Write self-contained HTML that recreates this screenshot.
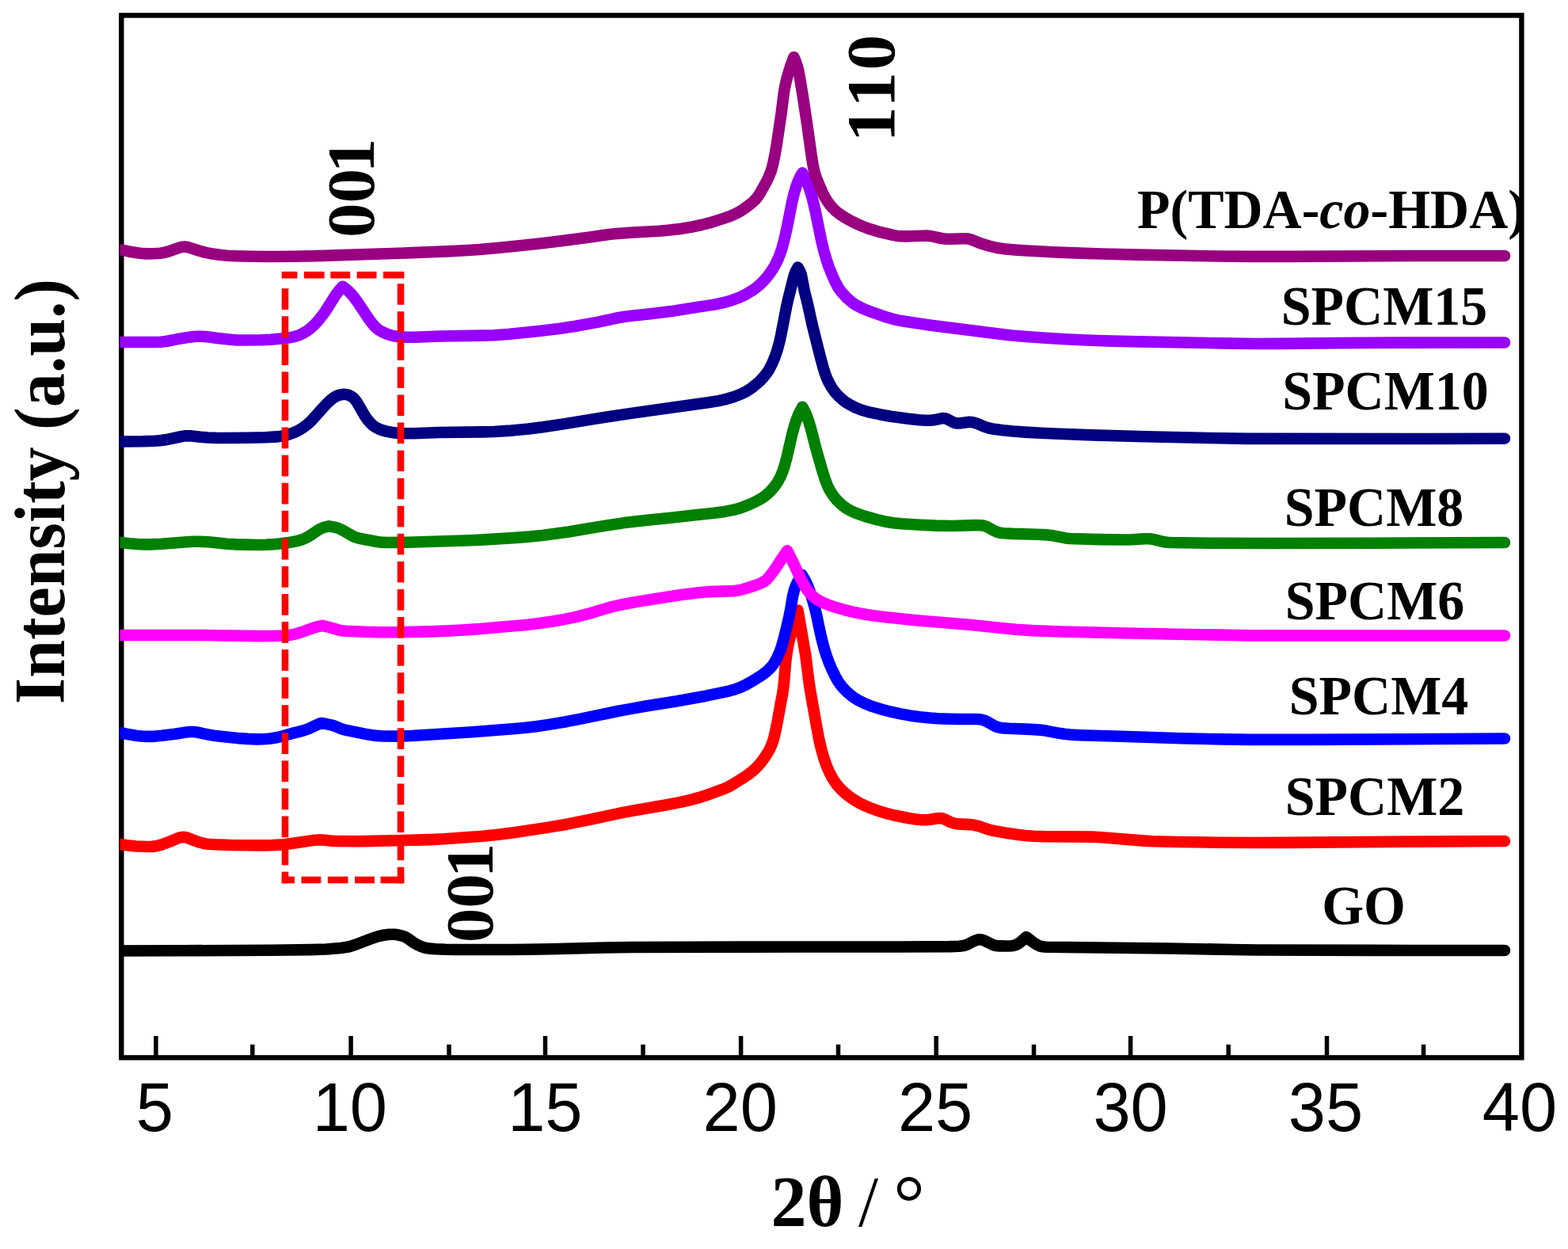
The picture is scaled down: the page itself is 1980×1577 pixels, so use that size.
<!DOCTYPE html>
<html lang="en">
<head>
<meta charset="utf-8">
<title>XRD patterns</title>
<style>
html,body{margin:0;padding:0;background:#fff;}
body{width:1980px;height:1577px;overflow:hidden;}
svg{display:block;}
.serif{font-family:"Liberation Serif","DejaVu Serif",serif;font-weight:bold;fill:#000;}
.sans{font-family:"Liberation Sans","DejaVu Sans",sans-serif;fill:#000;}
.curve{fill:none;stroke-width:14.6;stroke-linejoin:round;stroke-linecap:round;}
.dash{fill:none;stroke:#ff0000;stroke-width:9;}
.tick{stroke:#000;stroke-width:5.5;}
</style>
</head>
<body>
<svg width="1980" height="1577" viewBox="0 0 1980 1577">
<rect x="0" y="0" width="1980" height="1577" fill="#ffffff"/>
<rect x="153.3" y="19.4" width="1768.1" height="1316.0" fill="none" stroke="#000" stroke-width="6.4"/>
<clipPath id="cl"><rect x="151.5" y="0" width="1800" height="1577"/></clipPath>
<g id="curves" clip-path="url(#cl)">
<path class="curve" stroke="#000000" d="M152.5,1200.5 L232.0,1200.3 L343.0,1199.7 L392.5,1199.1 L412.0,1198.5 L421.0,1197.8 L430.0,1196.9 L436.7,1196.0 L441.1,1195.2 L448.2,1193.0 L469.9,1184.7 L476.3,1182.6 L480.7,1181.5 L485.8,1180.5 L490.3,1179.9 L494.0,1179.7 L497.8,1179.8 L502.2,1180.3 L506.6,1181.3 L510.1,1182.4 L512.2,1183.3 L514.7,1184.8 L522.1,1190.0 L525.9,1192.3 L532.0,1195.1 L537.0,1196.7 L542.1,1197.6 L550.3,1198.2 L562.3,1198.8 L575.1,1199.0 L646.3,1199.0 L667.3,1198.8 L696.6,1198.3 L764.1,1196.5 L797.8,1196.0 L939.6,1195.6 L1138.4,1195.5 L1199.9,1195.1 L1211.2,1194.7 L1214.9,1194.3 L1217.8,1193.8 L1222.0,1192.4 L1228.5,1188.9 L1231.9,1187.4 L1234.7,1186.6 L1236.8,1186.3 L1239.7,1186.5 L1242.4,1187.4 L1252.4,1192.3 L1255.2,1193.4 L1257.3,1193.9 L1262.5,1194.4 L1274.5,1194.5 L1277.4,1194.3 L1280.3,1193.8 L1282.4,1193.2 L1284.3,1192.3 L1286.9,1190.7 L1289.8,1188.5 L1296.0,1183.0 L1304.3,1189.5 L1308.0,1192.0 L1310.6,1193.4 L1313.3,1194.6 L1315.4,1195.1 L1318.3,1195.5 L1322.1,1195.7 L1475.2,1197.5 L1556.2,1199.0 L1587.7,1199.5 L1731.1,1199.9 L1900.0,1200.0"/>
<path class="curve" stroke="#ff0000" d="M152.5,1066.0 L162.1,1067.6 L171.8,1068.5 L186.1,1069.0 L191.3,1068.9 L195.0,1068.6 L199.4,1067.8 L203.7,1066.6 L214.3,1062.7 L225.3,1058.1 L228.1,1057.2 L231.0,1056.9 L233.2,1057.0 L236.1,1057.6 L246.5,1061.6 L252.9,1063.8 L258.0,1065.1 L262.4,1065.8 L270.6,1066.3 L290.8,1067.0 L329.1,1067.4 L344.1,1067.1 L359.1,1066.2 L366.5,1065.3 L394.7,1061.1 L402.2,1060.4 L407.4,1060.5 L417.1,1061.6 L421.5,1061.9 L446.3,1062.2 L459.8,1062.1 L525.0,1060.6 L543.8,1060.1 L560.3,1059.3 L609.6,1055.7 L626.8,1054.0 L646.9,1051.4 L687.7,1045.4 L715.8,1040.7 L744.5,1034.9 L787.8,1025.6 L840.2,1016.5 L857.9,1013.1 L868.2,1010.8 L876.9,1008.6 L884.1,1006.6 L892.7,1003.8 L911.0,997.2 L915.9,995.2 L920.0,993.4 L927.8,988.9 L940.5,980.9 L946.0,977.0 L950.1,973.8 L953.5,970.8 L956.6,967.6 L960.1,963.7 L963.8,958.9 L967.2,954.0 L969.9,949.5 L972.1,945.6 L974.2,940.8 L975.8,936.6 L977.3,931.6 L978.7,925.7 L981.6,911.8 L985.4,890.4 L988.1,876.4 L989.1,869.7 L989.9,863.0 L992.1,836.1 L993.9,822.7 L995.3,814.6 L997.0,807.3 L1002.5,788.6 L1007.5,770.5 L1017.3,827.4 L1021.3,859.4 L1022.8,869.8 L1031.4,918.6 L1034.5,934.8 L1037.1,945.8 L1040.6,958.0 L1044.1,967.9 L1046.5,973.4 L1049.2,978.8 L1051.7,983.4 L1054.1,987.1 L1056.8,990.8 L1060.2,994.8 L1063.9,998.5 L1067.8,1002.0 L1071.9,1005.3 L1076.8,1008.7 L1081.9,1011.9 L1087.1,1014.8 L1092.5,1017.4 L1098.1,1019.8 L1111.4,1024.6 L1120.8,1027.4 L1129.5,1029.5 L1147.2,1033.0 L1158.3,1034.7 L1165.0,1035.3 L1170.3,1035.3 L1174.7,1034.8 L1183.5,1033.2 L1186.5,1033.0 L1188.6,1033.2 L1190.8,1033.7 L1192.8,1034.4 L1201.6,1038.6 L1205.8,1039.8 L1210.2,1040.4 L1224.5,1041.1 L1230.4,1041.8 L1236.2,1043.2 L1248.2,1047.4 L1252.6,1048.5 L1260.0,1049.9 L1272.5,1052.1 L1284.4,1053.8 L1294.8,1055.0 L1305.3,1055.7 L1318.1,1056.1 L1378.8,1056.6 L1390.8,1057.3 L1441.7,1061.4 L1455.9,1062.3 L1487.4,1063.0 L1534.6,1063.7 L1580.4,1064.0 L1628.4,1063.9 L1786.0,1062.6 L1900.0,1062.0"/>
<path class="curve" stroke="#0000ff" d="M152.5,925.0 L162.8,927.3 L171.6,928.8 L180.6,929.7 L188.9,929.9 L196.4,929.6 L204.6,928.8 L221.0,926.8 L235.8,924.4 L239.6,924.0 L243.3,924.0 L249.2,924.6 L261.0,927.1 L269.9,928.7 L285.5,930.6 L300.5,932.1 L312.5,932.9 L324.5,933.4 L332.7,933.3 L341.7,932.5 L350.6,931.0 L355.7,929.7 L367.2,926.4 L382.5,922.6 L389.6,920.2 L399.8,915.3 L405.3,913.0 L412.0,914.0 L417.8,915.3 L422.1,916.6 L431.8,920.5 L438.3,922.2 L465.5,927.6 L475.2,928.9 L483.4,929.5 L504.4,929.6 L520.1,929.0 L596.5,924.2 L647.4,920.3 L663.8,918.8 L677.2,917.2 L692.8,914.9 L715.0,911.2 L733.4,907.6 L779.7,898.0 L791.4,895.8 L815.8,891.5 L853.6,885.5 L891.2,878.7 L915.5,873.6 L922.0,872.1 L927.8,870.4 L934.9,867.9 L942.3,864.4 L951.4,859.2 L962.2,852.3 L967.5,848.3 L972.0,844.2 L975.9,839.7 L978.7,835.3 L981.8,829.4 L984.8,822.5 L987.0,816.1 L989.1,808.9 L993.3,792.2 L996.3,779.0 L998.4,768.7 L1001.1,752.4 L1002.9,745.2 L1004.6,740.3 L1006.8,735.5 L1009.3,730.9 L1012.5,725.8 L1016.4,732.2 L1019.4,738.2 L1022.4,745.9 L1025.8,756.6 L1028.5,766.0 L1030.9,775.5 L1035.3,796.8 L1038.4,809.9 L1040.9,819.3 L1043.4,827.2 L1046.7,836.4 L1050.8,846.0 L1054.8,854.1 L1058.5,860.6 L1061.1,864.3 L1063.4,867.3 L1069.1,873.2 L1075.9,879.0 L1079.6,881.6 L1083.5,884.0 L1091.5,888.0 L1101.2,891.9 L1112.7,895.5 L1125.0,898.7 L1137.5,901.4 L1148.6,903.4 L1162.0,905.2 L1174.7,906.5 L1184.4,907.2 L1199.4,907.7 L1211.4,908.0 L1232.4,908.0 L1237.6,908.3 L1240.5,908.9 L1243.3,909.8 L1246.7,911.3 L1256.5,916.8 L1260.0,918.1 L1263.6,918.9 L1268.0,919.4 L1274.0,919.8 L1301.8,920.9 L1313.0,921.6 L1321.9,922.8 L1337.4,925.8 L1344.1,926.8 L1351.5,927.6 L1363.5,928.2 L1423.5,930.0 L1491.0,932.3 L1544.3,933.4 L1578.1,933.9 L1654.6,933.9 L1900.0,932.5"/>
<path class="curve" stroke="#ff00ff" d="M152.5,802.0 L257.0,802.0 L326.9,803.1 L342.7,803.0 L358.5,802.5 L366.0,801.9 L372.6,800.6 L381.2,798.0 L395.3,792.8 L400.4,791.4 L407.0,789.9 L415.8,792.0 L427.9,795.6 L431.6,796.3 L436.8,796.8 L460.0,797.8 L478.0,798.2 L496.1,798.2 L523.8,797.9 L544.1,797.4 L562.8,796.6 L583.0,795.6 L601.0,794.4 L622.7,792.4 L664.5,788.9 L680.9,787.0 L698.0,784.5 L714.3,781.6 L727.5,778.8 L744.9,774.4 L764.3,768.5 L773.0,766.1 L788.3,762.7 L805.3,759.6 L856.4,751.5 L878.0,748.7 L887.7,747.7 L896.0,747.1 L927.4,746.1 L933.4,745.3 L939.2,743.8 L954.2,739.0 L959.1,737.2 L963.8,734.9 L967.4,732.4 L971.0,728.6 L978.3,719.1 L988.1,704.1 L994.1,695.4 L1001.5,710.1 L1010.4,729.2 L1016.4,740.4 L1019.8,745.4 L1023.1,749.5 L1026.8,753.1 L1030.9,756.4 L1036.7,759.8 L1045.0,763.4 L1054.9,766.8 L1066.4,770.1 L1078.1,772.9 L1088.4,775.0 L1101.0,777.0 L1116.6,779.0 L1156.9,783.2 L1226.5,789.1 L1282.5,794.8 L1302.7,796.1 L1339.4,797.5 L1435.5,799.8 L1578.8,802.4 L1900.0,802.5"/>
<path class="curve" stroke="#008000" d="M152.5,685.0 L163.7,686.2 L173.4,687.0 L181.7,687.4 L189.9,687.4 L204.1,686.8 L236.3,684.2 L244.5,683.8 L251.3,683.8 L263.3,684.3 L287.2,686.7 L298.4,687.4 L327.6,688.0 L335.1,687.8 L342.6,687.4 L353.1,686.4 L366.5,684.7 L373.9,683.4 L379.7,681.9 L383.9,680.3 L387.9,678.3 L393.0,675.2 L401.0,669.7 L404.9,667.5 L409.8,665.7 L415.6,664.4 L423.0,665.7 L425.8,666.5 L428.6,667.5 L434.0,670.2 L445.0,676.6 L447.7,677.9 L450.5,678.9 L456.3,680.3 L476.2,684.0 L480.6,684.6 L488.9,685.0 L514.4,684.8 L594.7,682.2 L611.9,681.4 L652.3,678.9 L668.8,677.6 L684.5,676.0 L701.6,673.8 L718.0,671.5 L758.7,664.6 L788.3,660.1 L815.2,656.9 L849.5,653.5 L875.6,650.4 L901.7,647.8 L916.6,645.7 L927.6,643.5 L936.2,640.9 L946.0,637.1 L954.2,633.4 L961.4,629.4 L967.0,625.5 L972.0,621.1 L976.5,616.1 L981.0,610.1 L983.3,606.2 L985.7,601.6 L987.5,597.4 L989.3,592.5 L991.3,586.0 L993.6,577.3 L1000.3,548.1 L1003.1,537.9 L1005.4,530.8 L1007.8,524.5 L1010.4,519.1 L1013.2,513.8 L1015.7,518.4 L1017.7,522.4 L1019.6,527.3 L1021.3,532.3 L1024.4,543.1 L1030.2,565.6 L1038.2,593.7 L1042.1,605.9 L1044.5,612.2 L1046.7,617.0 L1049.3,621.5 L1052.6,626.5 L1057.4,632.2 L1062.9,637.3 L1068.9,641.8 L1075.4,645.5 L1083.0,648.7 L1092.2,651.9 L1107.4,656.1 L1119.1,658.8 L1128.0,660.2 L1138.4,661.2 L1162.4,662.7 L1181.9,663.6 L1202.1,664.0 L1232.1,663.1 L1238.8,663.2 L1242.5,663.8 L1246.0,665.0 L1248.6,666.3 L1255.8,670.3 L1259.2,671.8 L1262.8,672.7 L1267.2,673.3 L1279.2,673.9 L1309.2,674.7 L1322.7,675.4 L1330.1,676.3 L1345.5,679.4 L1350.7,680.0 L1357.5,680.3 L1388.2,681.1 L1420.5,681.5 L1430.2,681.3 L1445.2,680.2 L1450.4,680.2 L1453.4,680.5 L1457.1,681.1 L1470.2,684.3 L1473.9,684.8 L1478.4,685.0 L1531.6,685.8 L1597.7,686.0 L1738.0,685.7 L1900.0,685.0"/>
<path class="curve" stroke="#000080" d="M153.0,557.5 L180.8,557.2 L195.0,556.7 L201.7,556.3 L209.1,555.3 L229.7,551.0 L233.4,550.4 L236.4,550.2 L241.6,550.4 L253.5,551.8 L262.5,552.5 L272.2,552.9 L282.7,553.0 L312.7,552.8 L335.2,552.3 L349.4,551.4 L354.7,550.8 L359.1,550.1 L365.6,548.3 L372.6,545.6 L377.9,542.9 L383.6,539.3 L388.9,535.2 L393.3,531.1 L409.8,512.7 L414.5,507.8 L417.8,504.8 L421.4,502.1 L425.3,499.9 L428.7,498.7 L433.1,497.9 L436.8,498.0 L440.3,498.9 L443.6,500.5 L445.4,501.7 L447.0,503.2 L449.0,505.4 L451.1,508.4 L460.1,524.0 L463.4,529.0 L466.3,532.5 L468.8,535.2 L471.6,537.6 L474.1,539.3 L476.7,540.8 L480.1,542.3 L484.3,543.7 L488.7,544.8 L493.9,545.7 L500.5,546.7 L505.8,547.2 L511.0,547.3 L522.2,547.2 L555.2,546.0 L610.0,545.4 L624.2,545.0 L641.5,543.9 L667.6,541.4 L685.4,539.2 L711.4,535.4 L758.8,527.6 L795.1,522.1 L893.9,508.3 L907.3,506.1 L917.5,503.8 L926.8,501.0 L935.2,497.7 L942.6,494.1 L948.9,490.0 L955.9,484.4 L959.3,481.4 L962.4,478.2 L965.3,474.8 L968.1,471.2 L970.6,467.5 L972.4,464.2 L975.4,458.2 L978.3,451.3 L980.8,444.2 L982.9,437.0 L984.6,430.5 L986.2,423.2 L993.0,387.8 L995.3,377.5 L1002.6,348.5 L1004.7,342.9 L1007.5,337.6 L1010.0,342.0 L1011.1,344.7 L1012.0,347.6 L1015.8,367.5 L1019.8,383.5 L1025.8,410.6 L1036.4,452.8 L1039.6,464.3 L1041.8,471.5 L1043.9,477.1 L1046.1,481.9 L1050.1,489.1 L1054.4,495.2 L1056.9,498.0 L1060.0,501.2 L1065.7,506.1 L1068.7,508.3 L1072.5,510.6 L1080.5,514.8 L1088.2,517.8 L1096.1,520.1 L1110.8,523.2 L1124.8,525.7 L1147.1,528.8 L1160.5,530.3 L1168.8,530.8 L1174.7,530.8 L1179.2,530.3 L1188.6,528.3 L1190.8,528.1 L1193.0,528.3 L1196.4,529.3 L1203.5,533.2 L1206.9,534.3 L1209.1,534.5 L1211.3,534.4 L1222.4,532.9 L1225.3,532.9 L1227.5,533.1 L1230.4,533.7 L1233.3,534.6 L1243.6,538.9 L1248.6,540.5 L1255.2,541.8 L1266.4,543.2 L1279.1,544.5 L1294.0,545.6 L1314.2,546.8 L1336.7,547.8 L1379.4,549.4 L1446.2,551.3 L1539.2,553.3 L1574.4,553.9 L1805.5,554.0 L1900.0,553.7"/>
<path class="curve" stroke="#9900ff" d="M153.0,432.0 L195.8,432.0 L203.3,431.8 L210.0,431.0 L223.2,428.3 L238.0,425.9 L244.7,425.0 L250.0,424.7 L254.5,424.7 L259.7,425.1 L274.6,426.9 L293.3,429.0 L299.2,429.4 L306.0,429.5 L329.3,429.3 L342.0,428.7 L360.7,427.0 L366.6,426.1 L371.8,425.1 L375.4,424.0 L378.8,422.7 L382.2,421.0 L385.5,419.2 L389.2,416.7 L392.2,414.5 L397.7,409.4 L402.7,403.8 L407.8,397.3 L412.5,390.5 L423.7,372.7 L427.7,367.3 L432.7,361.7 L436.9,364.9 L440.3,367.8 L443.4,371.0 L446.3,374.4 L452.6,382.9 L463.7,399.8 L467.6,405.3 L472.3,411.2 L476.0,414.8 L479.0,417.0 L482.9,419.2 L487.7,421.3 L492.7,423.1 L497.0,424.2 L500.7,424.8 L511.1,425.6 L524.7,425.7 L556.1,424.5 L609.4,423.6 L623.7,423.2 L641.6,422.0 L680.5,418.1 L705.8,415.0 L725.8,412.0 L755.4,406.6 L777.4,401.8 L786.2,400.2 L795.2,399.1 L823.5,396.1 L847.3,393.1 L878.4,388.1 L900.0,384.9 L906.6,383.7 L913.2,382.2 L924.0,379.2 L933.9,375.5 L942.0,371.6 L950.3,366.6 L954.0,363.9 L957.5,361.1 L960.8,358.1 L964.5,354.4 L968.0,350.5 L970.8,347.0 L975.9,339.6 L979.3,333.7 L982.5,327.0 L984.8,321.4 L987.2,314.3 L989.6,305.6 L991.7,296.9 L994.7,282.9 L1000.2,254.9 L1003.0,243.3 L1005.4,235.4 L1007.7,229.0 L1010.2,223.6 L1013.2,218.4 L1016.8,225.0 L1019.8,231.8 L1022.6,239.6 L1025.4,248.9 L1027.4,256.9 L1029.6,266.5 L1037.2,303.9 L1040.2,316.3 L1043.3,327.1 L1046.7,337.1 L1050.6,346.8 L1054.9,356.4 L1058.4,363.0 L1060.6,366.1 L1063.3,369.6 L1069.5,376.2 L1075.7,381.6 L1079.4,384.2 L1082.6,386.1 L1089.2,389.5 L1096.9,392.6 L1118.9,400.3 L1128.9,403.2 L1135.5,404.6 L1143.7,406.0 L1175.6,410.7 L1256.7,421.0 L1277.6,423.5 L1295.5,425.1 L1320.2,426.8 L1349.4,428.5 L1378.6,429.8 L1404.1,430.6 L1437.1,431.4 L1555.6,433.6 L1585.7,434.0 L1617.9,433.9 L1690.7,433.1 L1764.2,432.6 L1900.0,432.5"/>
<path class="curve" stroke="#990080" d="M152.5,315.3 L163.5,317.7 L176.8,319.8 L184.3,320.4 L194.1,320.2 L202.3,319.7 L208.2,318.7 L213.9,317.1 L227.4,312.4 L230.2,311.7 L233.1,311.6 L235.3,311.7 L238.2,312.4 L251.8,316.8 L259.7,318.9 L268.6,320.6 L279.0,322.1 L287.2,322.8 L296.9,323.2 L320.2,323.7 L342.7,324.0 L369.0,323.8 L400.5,323.1 L504.0,319.8 L570.0,317.1 L591.0,316.0 L606.0,315.0 L635.9,312.3 L662.8,309.6 L685.9,307.0 L714.2,303.5 L744.7,299.5 L768.5,296.1 L775.9,295.3 L799.1,293.5 L832.1,291.8 L845.6,290.6 L860.4,288.7 L872.3,286.8 L885.5,284.0 L897.9,280.9 L915.7,275.1 L922.1,272.8 L926.9,270.8 L931.0,268.8 L934.9,266.6 L939.3,263.8 L944.2,260.3 L948.3,257.1 L951.7,254.1 L954.3,251.5 L956.7,248.6 L960.7,242.3 L968.3,228.4 L971.2,222.3 L973.4,216.8 L974.9,211.8 L976.5,205.2 L978.9,193.4 L980.9,181.6 L986.6,143.0 L989.6,119.1 L991.0,110.3 L993.2,100.7 L995.8,91.3 L999.0,81.3 L1002.4,72.2 L1004.8,77.7 L1006.5,82.6 L1008.4,89.9 L1009.8,97.2 L1013.6,120.2 L1018.9,155.0 L1025.1,199.6 L1027.3,212.2 L1028.7,218.0 L1030.8,224.4 L1035.3,235.5 L1038.9,243.7 L1041.3,248.4 L1043.6,252.3 L1046.1,256.0 L1048.8,259.6 L1051.2,262.4 L1054.4,265.6 L1057.9,268.5 L1061.5,271.1 L1066.5,274.4 L1071.7,277.4 L1077.0,280.2 L1083.1,283.1 L1089.3,285.8 L1095.6,288.2 L1102.0,290.3 L1108.5,292.3 L1126.7,296.7 L1131.8,297.7 L1136.3,298.2 L1144.5,298.4 L1163.2,297.7 L1170.0,297.6 L1176.7,298.3 L1189.1,301.0 L1195.1,301.7 L1201.1,301.8 L1216.0,301.2 L1219.0,301.2 L1222.0,301.5 L1227.0,302.7 L1238.8,307.5 L1248.9,310.5 L1259.1,313.0 L1268.7,314.4 L1281.4,315.5 L1296.4,316.5 L1328.6,318.2 L1356.3,319.4 L1390.8,320.5 L1436.5,321.6 L1539.2,323.5 L1578.2,323.9 L1627.0,323.9 L1783.0,323.0 L1900.0,323.0"/>
</g>
<g id="dashbox" fill="#ff0000">
<rect x="355.7" y="342.9" width="19.7" height="8.6"/>
<rect x="383.9" y="342.9" width="25.7" height="8.6"/>
<rect x="417.3" y="342.9" width="24.8" height="8.6"/>
<rect x="450.7" y="342.9" width="24.8" height="8.6"/>
<rect x="484.0" y="342.9" width="26.4" height="8.6"/>
<rect x="355.7" y="1106.7" width="16.3" height="8.6"/>
<rect x="380.5" y="1106.7" width="24.8" height="8.6"/>
<rect x="413.9" y="1106.7" width="25.6" height="8.6"/>
<rect x="448.0" y="1106.7" width="25.0" height="8.6"/>
<rect x="480.6" y="1106.7" width="29.8" height="8.6"/>
<rect x="355.7" y="364.2" width="8.6" height="26.8"/>
<rect x="355.7" y="399.3" width="8.6" height="26.8"/>
<rect x="355.7" y="434.3" width="8.6" height="26.8"/>
<rect x="355.7" y="469.4" width="8.6" height="26.8"/>
<rect x="355.7" y="504.5" width="8.6" height="26.8"/>
<rect x="355.7" y="539.5" width="8.6" height="26.8"/>
<rect x="355.7" y="574.6" width="8.6" height="26.8"/>
<rect x="355.7" y="609.7" width="8.6" height="26.8"/>
<rect x="355.7" y="644.8" width="8.6" height="26.8"/>
<rect x="355.7" y="679.8" width="8.6" height="26.8"/>
<rect x="355.7" y="714.9" width="8.6" height="26.8"/>
<rect x="355.7" y="750.0" width="8.6" height="26.8"/>
<rect x="355.7" y="785.0" width="8.6" height="26.8"/>
<rect x="355.7" y="820.1" width="8.6" height="26.8"/>
<rect x="355.7" y="855.2" width="8.6" height="26.8"/>
<rect x="355.7" y="890.2" width="8.6" height="26.8"/>
<rect x="355.7" y="925.3" width="8.6" height="26.8"/>
<rect x="355.7" y="960.4" width="8.6" height="26.8"/>
<rect x="355.7" y="995.5" width="8.6" height="26.8"/>
<rect x="355.7" y="1030.5" width="8.6" height="26.8"/>
<rect x="355.7" y="1065.6" width="8.6" height="26.8"/>
<rect x="355.7" y="1100.7" width="8.6" height="14.6"/>
<rect x="501.7" y="358.2" width="8.6" height="26.6"/>
<rect x="501.7" y="393.3" width="8.6" height="26.6"/>
<rect x="501.7" y="428.3" width="8.6" height="26.6"/>
<rect x="501.7" y="463.4" width="8.6" height="26.6"/>
<rect x="501.7" y="498.5" width="8.6" height="26.6"/>
<rect x="501.7" y="533.5" width="8.6" height="26.6"/>
<rect x="501.7" y="568.6" width="8.6" height="26.6"/>
<rect x="501.7" y="603.7" width="8.6" height="26.6"/>
<rect x="501.7" y="638.8" width="8.6" height="26.6"/>
<rect x="501.7" y="673.8" width="8.6" height="26.6"/>
<rect x="501.7" y="708.9" width="8.6" height="26.6"/>
<rect x="501.7" y="744.0" width="8.6" height="26.6"/>
<rect x="501.7" y="779.0" width="8.6" height="26.6"/>
<rect x="501.7" y="814.1" width="8.6" height="26.6"/>
<rect x="501.7" y="849.2" width="8.6" height="26.6"/>
<rect x="501.7" y="884.2" width="8.6" height="26.6"/>
<rect x="501.7" y="919.3" width="8.6" height="26.6"/>
<rect x="501.7" y="954.4" width="8.6" height="26.6"/>
<rect x="501.7" y="989.5" width="8.6" height="26.6"/>
<rect x="501.7" y="1024.5" width="8.6" height="26.6"/>
<rect x="501.7" y="1059.6" width="8.6" height="26.6"/>
<rect x="501.7" y="1094.7" width="8.6" height="20.6"/>
</g>
<g id="ticks">
<line class="tick" x1="196.9" y1="1308" x2="196.9" y2="1335"/>
<line class="tick" x1="443.1" y1="1308" x2="443.1" y2="1335"/>
<line class="tick" x1="688.5" y1="1308" x2="688.5" y2="1335"/>
<line class="tick" x1="935.6" y1="1308" x2="935.6" y2="1335"/>
<line class="tick" x1="1182.2" y1="1308" x2="1182.2" y2="1335"/>
<line class="tick" x1="1427.6" y1="1308" x2="1427.6" y2="1335"/>
<line class="tick" x1="1675.5" y1="1308" x2="1675.5" y2="1335"/>
<line class="tick" x1="318.8" y1="1318.8" x2="318.8" y2="1335"/>
<line class="tick" x1="567" y1="1318.8" x2="567" y2="1335"/>
<line class="tick" x1="812" y1="1318.8" x2="812" y2="1335"/>
<line class="tick" x1="1058.5" y1="1318.8" x2="1058.5" y2="1335"/>
<line class="tick" x1="1305.5" y1="1318.8" x2="1305.5" y2="1335"/>
<line class="tick" x1="1551.2" y1="1318.8" x2="1551.2" y2="1335"/>
<line class="tick" x1="1797.6" y1="1318.8" x2="1797.6" y2="1335"/>
</g>
<g id="ticklabels" class="sans" font-size="87" text-anchor="middle">
<text transform="translate(195.4,1428.3) scale(0.975,1)">5</text>
<text transform="translate(441.8,1428.3) scale(0.975,1)">10</text>
<text transform="translate(688.3,1428.3) scale(0.975,1)">15</text>
<text transform="translate(934.7,1428.3) scale(0.975,1)">20</text>
<text transform="translate(1181.1,1428.3) scale(0.975,1)">25</text>
<text transform="translate(1427.6,1428.3) scale(0.975,1)">30</text>
<text transform="translate(1674.0,1428.3) scale(0.975,1)">35</text>
<text transform="translate(1918.9,1428.3) scale(0.975,1)">40</text>
</g>
<text class="serif" font-size="90" x="973.5" y="1548">2θ <tspan x="1083.9" font-weight="normal">/</tspan> <tspan x="1128" y="1552" font-size="100" font-weight="normal">°</tspan></text>
<text class="serif" font-size="86" transform="translate(80.8,889.3) rotate(-90) scale(1,1.055)">Intensity (a.u.)</text>
<text class="serif" font-size="68" transform="translate(1436,287.6) scale(1,1.03)">P(TDA-<tspan font-style="italic">co</tspan>-HDA)</text>
<text class="serif" font-size="68" transform="translate(1617.7,410.3) scale(1,1.03)">SPCM15</text>
<text class="serif" font-size="68" transform="translate(1619.2,516.8) scale(1,1.03)">SPCM10</text>
<text class="serif" font-size="68" transform="translate(1621.7,664.3) scale(1,1.03)">SPCM8</text>
<text class="serif" font-size="68" transform="translate(1622.7,781.8) scale(1,1.03)">SPCM6</text>
<text class="serif" font-size="68" transform="translate(1627.7,901.8) scale(1,1.03)">SPCM4</text>
<text class="serif" font-size="68" transform="translate(1622.7,1029.3) scale(1,1.03)">SPCM2</text>
<text class="serif" font-size="68" transform="translate(1669.2,1166.8) scale(1,1.03)">GO</text>
<text class="serif" font-size="87" transform="translate(471.8,299.9) rotate(-90) scale(1,0.97)">00<tspan dx="-5.3">1</tspan></text>
<text class="serif" font-size="87" transform="translate(1129,179.4) rotate(-90) scale(1.03,1)">1<tspan dx="-1.2">1</tspan><tspan dx="2.2">0</tspan></text>
<text class="serif" font-size="87" transform="translate(621.8,1190.2) rotate(-90) scale(1,0.97)">00<tspan dx="-5">1</tspan></text>
</svg>
</body>
</html>
